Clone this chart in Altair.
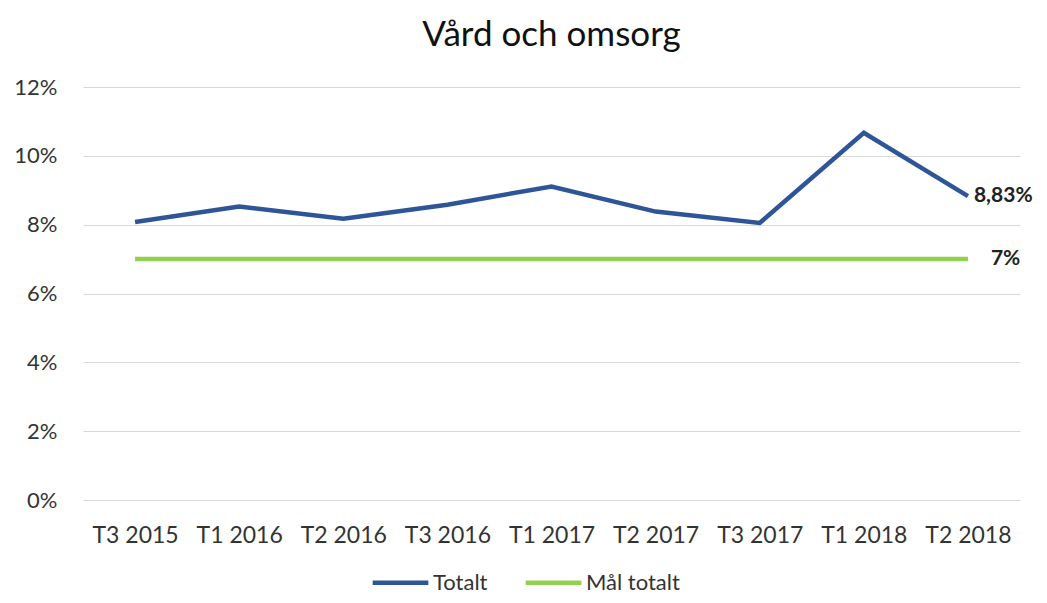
import altair as alt
import pandas as pd

categories = ["T3 2015", "T1 2016", "T2 2016", "T3 2016", "T1 2017",
              "T2 2017", "T3 2017", "T1 2018", "T2 2018"]
totalt = [8.08, 8.53, 8.17, 8.58, 9.11, 8.38, 8.05, 10.67, 8.83]
mal_totalt = [7, 7, 7, 7, 7, 7, 7, 7, 7]
series_names = ["Totalt", "Mål totalt"]
series_colors = ["#2E5597", "#92D050"]
end_labels = ["8,83%", "7%"]

rows = []
for c, v in zip(categories, totalt):
    rows.append({"kat": c, "serie": series_names[0], "v": v / 100})
for c, v in zip(categories, mal_totalt):
    rows.append({"kat": c, "serie": series_names[1], "v": v / 100})
df = pd.DataFrame(rows)

lab_df = pd.DataFrame([
    {"kat": categories[-1], "v": totalt[-1] / 100, "txt": end_labels[0]},
    {"kat": categories[-1], "v": mal_totalt[-1] / 100, "txt": end_labels[1]},
])

FONT = "Lato"
TXT = "#333333"

x = alt.X("kat:N", sort=categories, title=None,
          scale=alt.Scale(type="point", padding=0.5),
          axis=alt.Axis(labelAngle=0, ticks=False, domain=False, grid=False,
                        labelFontSize=23, labelColor=TXT, labelFont=FONT,
                        labelPadding=24))
y = alt.Y("v:Q", title=None,
          scale=alt.Scale(domain=[0, 0.12], nice=False),
          axis=alt.Axis(values=[0, 0.02, 0.04, 0.06, 0.08, 0.10, 0.12], format=".0%",
                        ticks=False, domain=False, gridColor="#d9d9d9", gridWidth=1.2,
                        labelFontSize=22, labelColor=TXT, labelFont=FONT,
                        labelPadding=26))

lines = alt.Chart(df).mark_line(strokeWidth=4.5, strokeCap="butt").encode(
    x=x, y=y,
    color=alt.Color("serie:N", sort=series_names,
                    scale=alt.Scale(domain=series_names, range=series_colors),
                    legend=alt.Legend(title=None, orient="none", direction="horizontal",
                                      legendX=287, legendY=465,
                                      symbolType="stroke", symbolSize=3100,
                                      symbolStrokeWidth=4.5, labelFontSize=22,
                                      labelFont=FONT, labelColor=TXT,
                                      columnPadding=28, labelOffset=2)),
)

label1 = alt.Chart(lab_df.iloc[[0]]).mark_text(align="left", baseline="middle", dx=6,
                                     fontSize=21, fontWeight="bold", font=FONT,
                                     color="#222222").encode(
    x=alt.X("kat:N", sort=categories),
    y=alt.Y("v:Q"),
    text="txt:N",
)
label2 = alt.Chart(lab_df.iloc[[1]]).mark_text(align="left", baseline="middle", dx=23,
                                     fontSize=21, fontWeight="bold", font=FONT,
                                     color="#222222").encode(
    x=alt.X("kat:N", sort=categories),
    y=alt.Y("v:Q"),
    text="txt:N",
)

chart = alt.layer(lines, label1, label2).properties(
    width=937, height=413,
    padding={"left": 75, "top": 79, "right": 19, "bottom": 95},
    autosize=alt.AutoSizeParams(type="none"),
    title=alt.TitleParams("Vård och omsorg", fontSize=35, font=FONT,
                          fontWeight="normal", color="#111111", offset=23),
).configure_view(stroke=None)

chart.save("out.html", embed_options={"renderer": "svg", "actions": False})
